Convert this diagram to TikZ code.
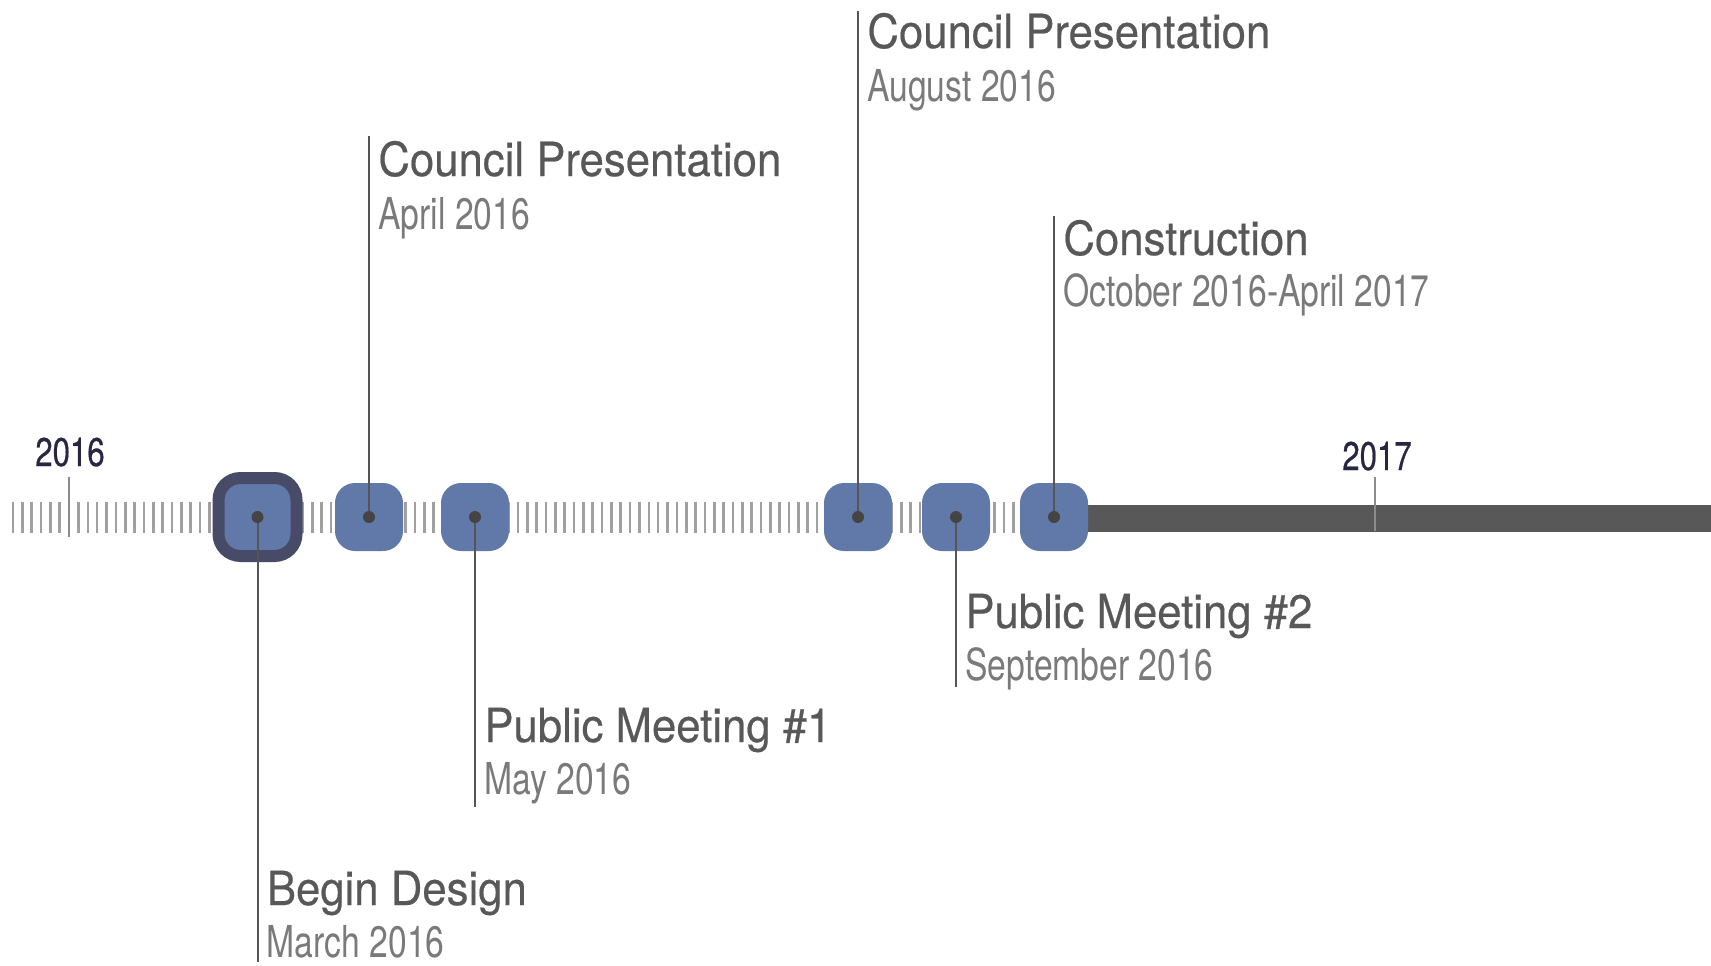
\documentclass[tikz,border=0pt]{standalone}
\usepackage{fontspec}
\setmainfont{TeX Gyre Heros}
\newfontfamily\titlefont[FakeStretch=0.93,FakeBold=0.4]{TeX Gyre Heros}
\newfontfamily\subfont[FakeStretch=0.765]{TeX Gyre Heros}
\newfontfamily\yearfont[FakeStretch=0.78,FakeBold=0.5]{TeX Gyre Heros}
\definecolor{nodeblue}{RGB}{96,121,168}
\definecolor{bigborder}{RGB}{72,75,104}
\definecolor{dotgray}{RGB}{68,68,68}
\definecolor{linegray}{RGB}{85,85,85}
\definecolor{tickgray}{RGB}{160,160,160}
\definecolor{majortick}{RGB}{140,140,140}
\definecolor{bargray}{RGB}{88,88,88}
\definecolor{titlegray}{RGB}{88,88,88}
\definecolor{subgray}{RGB}{122,122,122}
\definecolor{yearnavy}{RGB}{40,38,66}
\begin{document}
\begin{tikzpicture}[x=0.5pt,y=-0.5pt,
  minortick/.style={draw=tickgray,line width=1.3pt},
  yeartick/.style={draw=majortick,line width=1.3pt},
  evt/.style={rectangle,fill=nodeblue,rounded corners=10pt,minimum size=34pt,inner sep=0pt},
  bigevt/.style={evt,draw=bigborder,line width=6pt,minimum size=39pt,rounded corners=11pt},
  dotc/.style={circle,fill=dotgray,minimum size=6pt,inner sep=0pt},
  conn/.style={draw=linegray,line width=1pt},
  ttl/.style={anchor=base west,inner sep=0pt,text=titlegray,font=\titlefont\fontsize{23.5}{28}\selectfont},
  subt/.style={anchor=base west,inner sep=0pt,text=subgray,font=\subfont\fontsize{22}{26}\selectfont},
  yearlbl/.style={anchor=base,inner sep=0pt,text=yearnavy,font=\yearfont\fontsize{20}{24}\selectfont}]
\useasboundingbox (0,0) rectangle (1711,965);
% minor ticks
\foreach \i in {0,...,114}{
  \draw[minortick] ({13+9.35*\i},502) -- ({13+9.35*\i},533);
}
% thick bar after construction start
\fill[bargray] (1088,505) rectangle (1711,532);
% year ticks and labels
\draw[yeartick] (69,477) -- (69,537);
\draw[yeartick] (1375,477) -- (1375,531);
\node[yearlbl] (y2016) at (70,466) {2016};
\node[yearlbl] (y2017) at (1377,470) {2017};
% event nodes
\node[bigevt] (e1) at (257.5,517) {};
\node[evt] (e2) at (369,517) {};
\node[evt] (e3) at (475,517) {};
\node[evt] (e4) at (858,517) {};
\node[evt] (e5) at (956,517) {};
\node[evt] (e6) at (1054,517) {};
% connector ends
\coordinate (c1) at (257.5,962);
\coordinate (c2) at (369,136);
\coordinate (c3) at (475,807);
\coordinate (c4) at (858,11);
\coordinate (c5) at (956,687);
\coordinate (c6) at (1054,216);
\foreach \k in {1,...,6}{
  \draw[conn] (e\k.center) -- (c\k);
  \node[dotc] (d\k) at (e\k.center) {};
}
% labels
\node[ttl] (t1) at (266.5,905) {Begin Design};
\node[subt] (s1) at (266.5,957) {March 2016};
\node[ttl] (t2) at (378,176) {Council Presentation};
\node[subt] (s2) at (378,229) {April 2016};
\node[ttl] (t3) at (484,742) {Public Meeting \#1};
\node[subt] (s3) at (484,794) {May 2016};
\node[ttl] (t4) at (867,48) {Council Presentation};
\node[subt] (s4) at (867,101) {August 2016};
\node[ttl] (t5) at (965,628) {Public Meeting \#2};
\node[subt] (s5) at (965,680) {September 2016};
\node[ttl] (t6) at (1063,255) {Construction};
\node[subt] (s6) at (1063,306) {October 2016-April 2017};
\end{tikzpicture}
\end{document}
